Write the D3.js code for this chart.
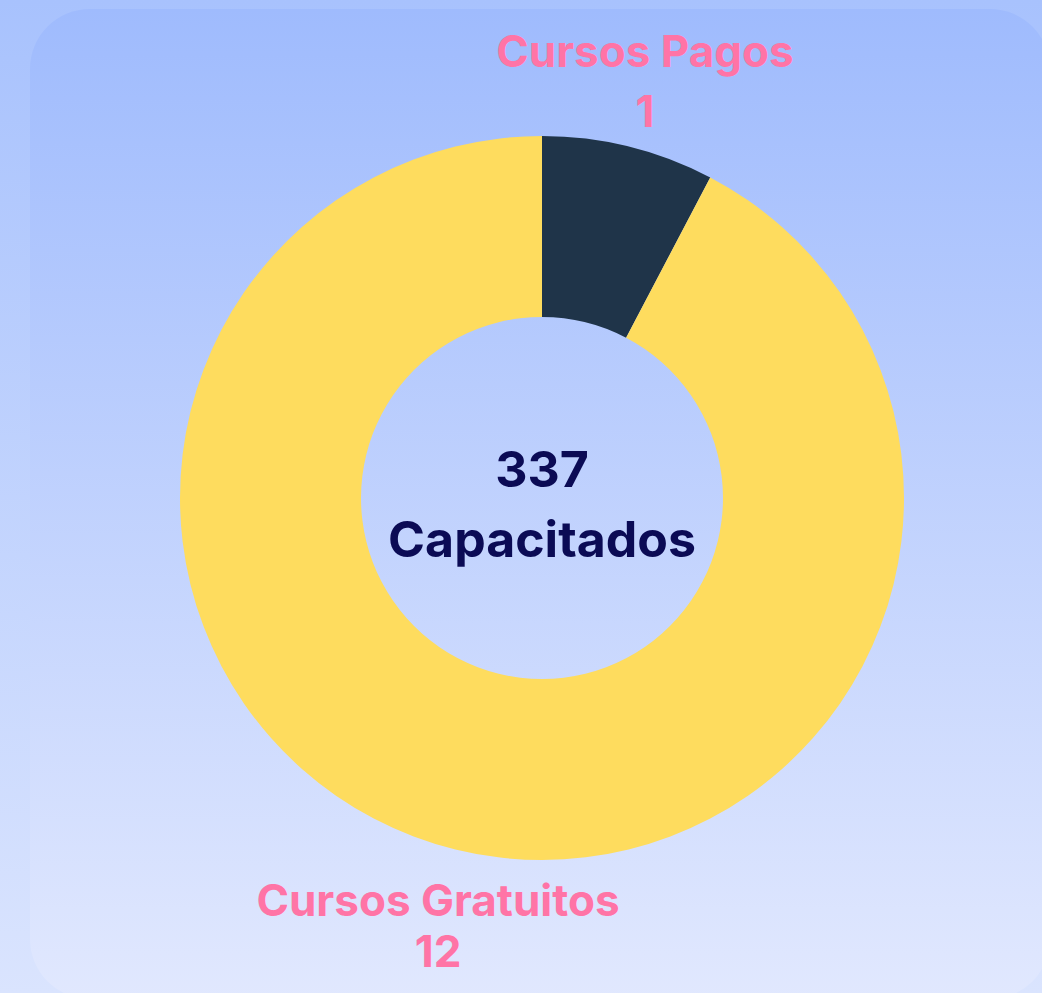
<!DOCTYPE html>
<html>
<head>
<meta charset="utf-8">
<script src="https://cdn.jsdelivr.net/npm/d3@7"></script>
<style>
  html, body { margin: 0; padding: 0; }
  body { width: 1042px; height: 993px; overflow: hidden; }
</style>
</head>
<body>
<script>
var categories = ["Cursos Pagos", "Cursos Gratuitos"];
var values = [1, 12];
var sliceColors = ["#1f3449", "#fedc5e"];
var centerLines = ["337", "Capacitados"];

var width = 1042;
var height = 993;
var cx = 542, cy = 498;
var outerR = 362, innerR = 181;

var svg = d3.select("body").append("svg")
    .attr("width", width)
    .attr("height", height)
    .style("display", "block")
    .style("font-family", "Inter, 'Open Sans', sans-serif")

var defs = svg.append("defs")

var bgGrad = defs.append("linearGradient")
    .attr("id", "bgGrad")
    .attr("x1", 0).attr("y1", 0).attr("x2", 0).attr("y2", 1)
bgGrad.append("stop").attr("offset", "0%").attr("stop-color", "#a8c2fd")
bgGrad.append("stop").attr("offset", "100%").attr("stop-color", "#dae4fe")

var cardGrad = defs.append("linearGradient")
    .attr("id", "cardGrad")
    .attr("x1", 0).attr("y1", 0).attr("x2", 0).attr("y2", 1)
cardGrad.append("stop").attr("offset", "0%").attr("stop-color", "#9fbbfd")
cardGrad.append("stop").attr("offset", "100%").attr("stop-color", "#e1e8fe")

svg.append("rect")
    .attr("width", width)
    .attr("height", height)
    .attr("fill", "url(#bgGrad)")

// card behind the chart
svg.append("rect")
    .attr("x", 30)
    .attr("y", 9)
    .attr("width", 1020)
    .attr("height", 990)
    .attr("rx", 60)
    .attr("fill", "url(#cardGrad)")

var pie = d3.pie()
    .sort(null)
    .value(d => d)

var arc = d3.arc()
    .innerRadius(innerR)
    .outerRadius(outerR)

var chart = svg.append("g")
    .attr("transform", "translate(" + cx + "," + cy + ")")

chart.selectAll("path.slice")
    .data(pie(values))
    .join("path")
    .attr("class", "slice")
    .attr("d", arc)
    .attr("fill", (d, i) => sliceColors[i])

// center text
chart.append("text")
    .attr("text-anchor", "middle")
    .attr("y", -11)
    .attr("fill", "#0b0b55")
    .style("font-weight", 700)
    .style("font-size", "50px")
    .text(centerLines[0])

chart.append("text")
    .attr("text-anchor", "middle")
    .attr("y", 59)
    .attr("fill", "#0b0b55")
    .style("font-weight", 700)
    .style("font-size", "50px")
    .text(centerLines[1])

// labels
var labelPos = [[645, 67, 127], [438, 916, 967]];
var labels = svg.selectAll("g.label")
    .data(categories)
    .join("g")
    .attr("class", "label")

labels.append("text")
    .attr("x", (d, i) => labelPos[i][0])
    .attr("y", (d, i) => labelPos[i][1])
    .attr("text-anchor", "middle")
    .attr("fill", "#ff74a6")
    .style("font-weight", 700)
    .style("font-size", "44px")
    .text(d => d)

labels.append("text")
    .attr("x", (d, i) => labelPos[i][0])
    .attr("y", (d, i) => labelPos[i][2])
    .attr("text-anchor", "middle")
    .attr("fill", "#ff74a6")
    .style("font-weight", 700)
    .style("font-size", "44px")
    .text((d, i) => values[i])
</script>
</body>
</html>
